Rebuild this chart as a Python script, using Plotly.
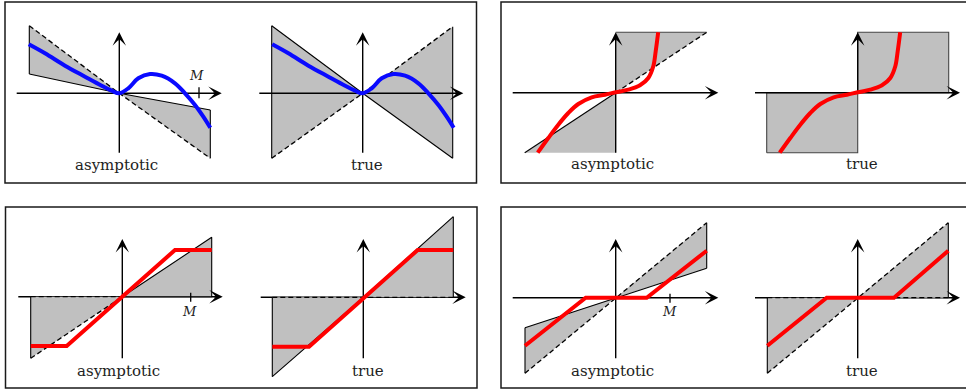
import plotly.graph_objects as go

W, H = 966, 390
S = 10  # pixels per data unit, same in x and y for every little diagram

BLUE = '#0a0aff'
RED = '#ff0000'
GRAY = '#c0c0c0'
FONT = 'DejaVu Serif'

# smooth curves shared by the two diagrams of a box
blue_x = [-9.05, -7.43, -5.43, -3.43, -1.76, -0.76, 0.0, 0.9, 1.9, 3.07, 4.24, 5.57, 6.57, 7.57, 8.4, 9.1]
blue_y = [4.9, 4.0, 2.76, 1.66, 0.76, 0.26, 0.0, 0.5, 1.5, 1.93, 1.76, 1.0, 0.0, -1.17, -2.34, -3.45]

red_x = [-7.8, -6.74, -5.74, -4.74, -3.74, -2.4, -1.07, 0.0, 1.26, 2.43, 3.26, 3.76, 4.0, 4.25]
red_y = [-6.0, -4.53, -3.2, -2.03, -1.13, -0.46, -0.2, 0.04, 0.3, 0.74, 1.47, 2.64, 4.14, 6.04]

# box 1, asymptotic
p1_shade_x = [-9.0, 0, -9.0, None, 0, 9.1, 9.1]
p1_shade_y = [6.76, 0, 1.93, None, 0, -1.67, -6.5]
p1_solid_x = [-9.0, 0, 9.1, None, -9.0, -9.0, None, 9.1, 9.1]
p1_solid_y = [1.93, 0, -1.67, None, 6.76, 1.93, None, -1.67, -6.5]
p1_dash_x = [-9.0, 0, 9.1]
p1_dash_y = [6.76, 0, -6.5]

# box 1, true
p2_shade_x = [-9.1, 0, -9.1, None, 0, 9.0, 9.0]
p2_shade_y = [6.76, 0, -6.5, None, 0, 6.66, -6.5]
p2_solid_x = [-9.1, 0, 9.0, None, -9.1, -9.1, None, 9.0, 9.0]
p2_solid_y = [6.76, 0, -6.5, None, 6.76, -6.5, None, 6.66, -6.5]
p2_dash_x = [-9.1, 0, 9.0]
p2_dash_y = [-6.5, 0, 6.66]

# box 2, asymptotic
p3_shade_x = [-9.1, 0, 0, None, 0, 0, 9.1]
p3_shade_y = [-6.0, -6.0, 0, None, 0, 6.04, 6.04]
p3_solid_x = [-9.1, 0]
p3_solid_y = [-6.0, 0]
p3_dash_x = [0, 9.1]
p3_dash_y = [0, 6.04]
p3_edge_x = [0, 9.1]
p3_edge_y = [6.04, 6.04]

# box 2, true
p4_shade_x = [-9.1, 0, 0, -9.1, -9.1, None, 0, 9.1, 9.1, 0, 0]
p4_shade_y = [-6.0, -6.0, 0, 0, -6.0, None, 0, 0, 6.04, 6.04, 0]

# box 3, asymptotic
p5_shade_x = [-9.16, 0, -9.16, None, 0, 8.94, 8.94]
p5_shade_y = [0, 0, -6.16, None, 0, 5.94, 0]
p5_solid_x = [0, 8.94, 8.94, 0, None, -9.16, -9.16]
p5_solid_y = [0, 5.94, 0, 0, None, 0, -6.16]
p5_dash_x = [-9.16, 0, None, -9.16, 0]
p5_dash_y = [-6.16, 0, None, 0, 0]
p5_red_x = [-9.16, -5.56, 5.27, 8.94]
p5_red_y = [-4.93, -4.93, 4.67, 4.67]

# box 3, true
p6_shade_x = [-9.1, 0, -9.1, None, 0, 9.0, 9.0]
p6_shade_y = [0, 0, -7.94, None, 0, 8.06, 0]
p6_solid_x = [-9.1, 0, 9.0, None, -9.1, -9.1, None, 9.0, 9.0]
p6_solid_y = [-7.94, 0, 8.06, None, 0, -7.94, None, 0, 8.06]
p6_dash_x = [-9.1, 9.0]
p6_dash_y = [0, 0]
p6_red_x = [-9.1, -5.43, 5.44, 9.0]
p6_red_y = [-4.94, -4.94, 4.73, 4.73]

# box 4, asymptotic
p7_shade_x = [-9.07, 0, -9.07, None, 0, 9.1, 9.1]
p7_shade_y = [-3.0, 0, -7.56, None, 0, 7.5, 2.94]
p7_solid_x = [-9.07, 0, 9.1, None, -9.07, -9.07, None, 9.1, 9.1]
p7_solid_y = [-3.0, 0, 2.94, None, -3.0, -7.56, None, 7.5, 2.94]
p7_dash_x = [-9.07, 0, 9.1]
p7_dash_y = [-7.56, 0, 7.5]
p7_red_x = [-9.07, -3.0, 3.1, 9.1]
p7_red_y = [-4.8, 0, 0, 4.7]

# box 4, true
p8_shade_x = [-9.04, 0, -9.04, None, 0, 9.06, 9.06]
p8_shade_y = [0, 0, -7.56, None, 0, 7.5, 0]
p8_solid_x = [-9.04, -9.04, None, 9.06, 9.06]
p8_solid_y = [0, -7.56, None, 0, 7.5]
p8_dash_x = [-9.04, 0, 9.06, None, -9.04, 9.06]
p8_dash_y = [-7.56, 0, 7.5, None, 0, 0]
p8_red_x = [-9.04, -3.1, 3.63, 9.06]
p8_red_y = [-4.8, 0, 0, 4.7]

panels = [
    dict(origin=(119.3, 93.3), xa=(-10.26, 10.24), ya=(-5.94, 6.1), under=False,
         shade=(p1_shade_x, p1_shade_y), solid=(p1_solid_x, p1_solid_y), dash=(p1_dash_x, p1_dash_y),
         curve=(blue_x, blue_y, BLUE, 'spline'), label=('asymptotic', -0.3, -7.12),
         tick=(7.97, -0.5, 0.6), m=(7.75, 1.75)),
    dict(origin=(362.7, 93.3), xa=(-10.34, 10.06), ya=(-5.94, 6.1), under=False,
         shade=(p2_shade_x, p2_shade_y), solid=(p2_solid_x, p2_solid_y), dash=(p2_dash_x, p2_dash_y),
         curve=(blue_x, blue_y, BLUE, 'spline'), label=('true', 0.4, -7.12)),
    dict(origin=(615.7, 92.7), xa=(-10.3, 10.26), ya=(-6.0, 6.04), under=False,
         shade=(p3_shade_x, p3_shade_y), solid=(p3_solid_x, p3_solid_y), dash=(p3_dash_x, p3_dash_y),
         edge=(p3_edge_x, p3_edge_y),
         curve=(red_x, red_y, RED, 'spline'), label=('asymptotic', -0.35, -7.16)),
    dict(origin=(857.7, 92.7), xa=(-10.27, 10.23), ya=(0, 6.04), under=False,
         shade=(p4_shade_x, p4_shade_y), edge=(p4_shade_x, p4_shade_y),
         curve=(red_x, red_y, RED, 'spline'), label=('true', 0.45, -7.16)),
    dict(origin=(122.3, 296.7), xa=(-10.4, 10.04), ya=(-6.16, 5.77), under=True,
         shade=(p5_shade_x, p5_shade_y), solid=(p5_solid_x, p5_solid_y), dash=(p5_dash_x, p5_dash_y),
         curve=(p5_red_x, p5_red_y, RED, 'linear'), label=('asymptotic', -0.43, -7.4),
         tick=(6.84, -0.5, 0.4), m=(6.69, -1.43)),
    dict(origin=(363.3, 297.3), xa=(-10.26, 10.24), ya=(-6.1, 5.83), under=True,
         shade=(p6_shade_x, p6_shade_y), solid=(p6_solid_x, p6_solid_y), dash=(p6_dash_x, p6_dash_y),
         curve=(p6_red_x, p6_red_y, RED, 'linear'), label=('true', 0.42, -7.34)),
    dict(origin=(615.7, 297.7), xa=(-10.3, 10.26), ya=(-6.06, 5.87), under=False,
         shade=(p7_shade_x, p7_shade_y), solid=(p7_solid_x, p7_solid_y), dash=(p7_dash_x, p7_dash_y),
         curve=(p7_red_x, p7_red_y, RED, 'linear'), label=('asymptotic', -0.35, -7.3),
         tick=(5.43, -0.5, 0.4), m=(5.33, -1.33)),
    dict(origin=(857.7, 297.7), xa=(-10.27, 10.23), ya=(-6.06, 5.87), under=True,
         shade=(p8_shade_x, p8_shade_y), solid=(p8_solid_x, p8_solid_y), dash=(p8_dash_x, p8_dash_y),
         curve=(p8_red_x, p8_red_y, RED, 'linear'), label=('true', 0.45, -7.3)),
]

# frames around the four pairs, in pixels (left, top, right, bottom)
boxes = [(5, 2, 476.5, 183), (501, 2, 967, 183), (5.5, 207, 477, 388), (501, 207, 967, 388)]

fig = go.Figure()
layout = dict(width=W, height=H, margin=dict(l=0, r=0, t=0, b=0),
              paper_bgcolor='white', plot_bgcolor='rgba(0,0,0,0)', showlegend=False)
annotations = []


def line(x, y, ax, color='black', width=1.0, dash='solid', shape='linear'):
    fig.add_trace(go.Scatter(x=x, y=y, mode='lines', xaxis=ax[0], yaxis=ax[1], hoverinfo='skip',
                             line=dict(color=color, width=width, dash=dash, shape=shape)))


def axes_lines(p, ax):
    line([p['xa'][0], p['xa'][1] - 0.5], [0, 0], ax, width=1.4)
    line([0, 0], [p['ya'][0], p['ya'][1] - 0.5], ax, width=1.4)


for i, p in enumerate(panels, start=1):
    ox, oy = p['origin']
    sfx = '' if i == 1 else str(i)
    layout['xaxis' + sfx] = dict(range=[-ox / S, (W - ox) / S], visible=False, fixedrange=True)
    layout['yaxis' + sfx] = dict(range=[(oy - H) / S, oy / S], visible=False, fixedrange=True)
    if i > 1:
        layout['xaxis' + sfx]['overlaying'] = 'x'
        layout['yaxis' + sfx]['overlaying'] = 'y'
    ax = ('x' + sfx, 'y' + sfx)

    if p['under']:
        axes_lines(p, ax)
    sx, sy = p['shade']
    fig.add_trace(go.Scatter(x=sx, y=sy, mode='lines', fill='toself', fillcolor=GRAY,
                             line=dict(width=0, color=GRAY), xaxis=ax[0], yaxis=ax[1], hoverinfo='skip'))
    if 'edge' in p:
        line(p['edge'][0], p['edge'][1], ax, color='#444444', width=1.1)
    if 'solid' in p:
        line(p['solid'][0], p['solid'][1], ax, width=1.1)
    if 'dash' in p:
        line(p['dash'][0], p['dash'][1], ax, width=1.3, dash='5px,3px')
    if not p['under']:
        axes_lines(p, ax)
    if 'tick' in p:
        tx, t0, t1 = p['tick']
        line([tx, tx], [t0, t1], ax, width=1.3)
    cx, cy, col, shape = p['curve']
    line(cx, cy, ax, color=col, width=4, shape=shape)

    # arrow heads at the end of both axes
    for (x, y, axx, ayy) in [(p['xa'][1], 0, p['xa'][1] - 1, 0), (0, p['ya'][1], 0, p['ya'][1] - 1)]:
        annotations.append(dict(x=x, y=y, ax=axx, ay=ayy, xref=ax[0], yref=ax[1], axref=ax[0], ayref=ax[1],
                                text='', showarrow=True, arrowhead=3, arrowsize=1.6, arrowwidth=1.4,
                                arrowcolor='black', standoff=0))
    txt, lx, ly = p['label']
    annotations.append(dict(x=lx, y=ly, xref=ax[0], yref=ax[1], text=txt, showarrow=False,
                            font=dict(family=FONT, size=15, color='#222222')))
    if 'm' in p:
        annotations.append(dict(x=p['m'][0], y=p['m'][1], xref=ax[0], yref=ax[1], text='<i>M</i>',
                                showarrow=False, font=dict(family=FONT, size=13, color='#222222')))

shapes = []
for (l, t, r, b) in boxes:
    shapes.append(dict(type='rect', xref='paper', yref='paper', x0=l / W, x1=r / W,
                       y0=1 - b / H, y1=1 - t / H, line=dict(color='#1a1a1a', width=1.5)))

layout['annotations'] = annotations
layout['shapes'] = shapes
fig.update_layout(**layout)
# the page body keeps the browser's 8px margin otherwise
fig.write_html("out.html", config={'displayModeBar': False},
               post_script="document.body.style.margin='0';")
